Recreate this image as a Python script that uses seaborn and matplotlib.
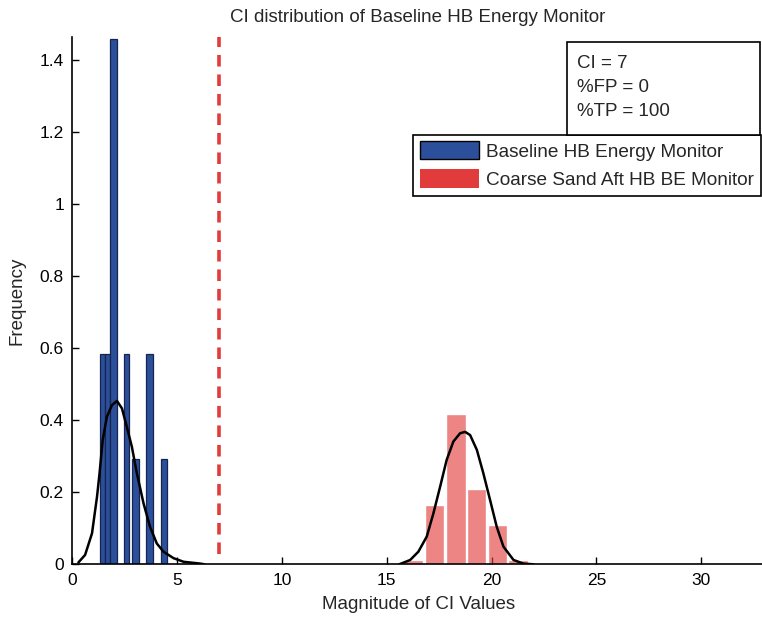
import numpy as np
import pandas as pd
import matplotlib
matplotlib.use("Agg")
import matplotlib.pyplot as plt
from matplotlib.patches import Patch, Rectangle
import seaborn as sns

# ---------------- data ----------------
title = "CI distribution of Baseline HB Energy Monitor"
xlabel = "Magnitude of CI Values"
ylabel = "Frequency"
series_names = ["Baseline HB Energy Monitor", "Coarse Sand Aft HB BE Monitor"]

# Baseline histogram (bar left edge, right edge, height)
base_left = [1.30, 1.54, 1.82, 2.45, 2.85, 3.53, 4.23]
base_right = [1.54, 1.80, 2.12, 2.72, 3.16, 3.85, 4.52]
base_height = [0.584, 0.584, 1.46, 0.584, 0.292, 0.584, 0.292]

# Coarse sand histogram
sand_left = [15.85, 16.85, 17.85, 18.85, 19.85, 20.80]
sand_right = [16.75, 17.75, 18.78, 19.75, 20.73, 21.75]
sand_height = [0.011, 0.164, 0.417, 0.209, 0.109, 0.011]

# Fitted curves
base_fit_x = [0.29, 0.61, 0.94, 1.18, 1.30, 1.45, 1.65, 1.89, 2.13, 2.37, 2.60,
              2.84, 3.08, 3.40, 3.71, 4.03, 4.35, 4.83, 5.31, 6.10, 6.30]
base_fit_y = [0.005, 0.026, 0.086, 0.188, 0.253, 0.345, 0.410, 0.442, 0.454, 0.433,
              0.382, 0.327, 0.253, 0.169, 0.104, 0.058, 0.035, 0.017, 0.007, 0.002, 0.0]
sand_fit_x = [15.60, 16.12, 16.51, 16.91, 17.23, 17.55, 17.86, 18.18, 18.50, 18.74,
              18.98, 19.30, 19.61, 19.93, 20.25, 20.57, 21.05, 21.52, 22.00]
sand_fit_y = [0.0, 0.012, 0.035, 0.077, 0.142, 0.216, 0.290, 0.341, 0.364, 0.368,
              0.359, 0.318, 0.253, 0.179, 0.104, 0.049, 0.012, 0.002, 0.0]

threshold = 7
stats_lines = ["CI = 7", "%FP = 0", "%TP = 100"]

x_ticks = [0, 5, 10, 15, 20, 25, 30]
y_ticks = [0, 0.2, 0.4, 0.6, 0.8, 1.0, 1.2, 1.4]
y_tick_labels = ["0", "0.2", "0.4", "0.6", "0.8", "1", "1.2", "1.4"]

# ---------------- style ----------------
sns.set_style("white")
plt.rcParams["font.family"] = ["Liberation Sans", "DejaVu Sans"]

W, H = 762, 621
fig = plt.figure(figsize=(W / 100, H / 100), dpi=100)
ax_l, ax_r, ax_t, ax_b = 72.3, 764.0, 37.0, 564.3
ax = fig.add_axes([ax_l / W, 1 - ax_b / H, (ax_r - ax_l) / W, (ax_b - ax_t) / H])

blue = "#2c4f9c"
red = "#e23b3b"


def hist_frame(lefts, rights, heights):
    edges = sorted(set(lefts) | set(rights))
    centers = [(l + r) / 2 for l, r in zip(lefts, rights)]
    return pd.DataFrame({"x": centers, "w": heights}), edges


df_b, edges_b = hist_frame(base_left, base_right, base_height)
df_s, edges_s = hist_frame(sand_left, sand_right, sand_height)

sns.histplot(data=df_s, x="x", weights="w", bins=edges_s, stat="count",
             color=red, alpha=0.62, edgecolor="white", linewidth=1.0, ax=ax)
sns.histplot(data=df_b, x="x", weights="w", bins=edges_b, stat="count",
             color=blue, alpha=1.0, edgecolor="#15264d", linewidth=0.9, ax=ax)

sns.lineplot(x=base_fit_x, y=base_fit_y, color="black", linewidth=1.8, ax=ax, sort=False)
sns.lineplot(x=sand_fit_x, y=sand_fit_y, color="black", linewidth=1.8, ax=ax, sort=False)

ax.axvline(threshold, ymin=0.02, ymax=1.0, color=red, linestyle=(0, (3.2, 2.2)),
           linewidth=2.6)

ax.set_xlim(0, 33.0)
ax.set_ylim(0, 1.465)
ax.set_xticks(x_ticks)
ax.set_xticklabels([str(t) for t in x_ticks])
ax.set_yticks(y_ticks)
ax.set_yticklabels(y_tick_labels)
ax.tick_params(axis="both", direction="in", length=5, width=1.0, labelsize=12.5,
               colors="black", bottom=True, left=True, top=False, right=False)
ax.tick_params(axis="x", pad=6)
ax.tick_params(axis="y", pad=6)
for s in ["top", "right"]:
    ax.spines[s].set_visible(False)
for s in ["left", "bottom"]:
    ax.spines[s].set_color("black")
    ax.spines[s].set_linewidth(1.2)

ax.set_xlabel(xlabel, fontsize=13.5, labelpad=6)
ax.set_ylabel(ylabel, fontsize=13.5, labelpad=10)
ax.set_title(title, fontsize=13.5, pad=11)

# legend
handles = [Patch(facecolor=blue, edgecolor="black", linewidth=1.0),
           Patch(facecolor=red, edgecolor=red, linewidth=0)]
leg = ax.legend(handles, series_names, loc="upper left",
                bbox_to_anchor=(413 / W, 1 - 134.5 / H), bbox_transform=fig.transFigure,
                fontsize=13.7, frameon=True, fancybox=False, framealpha=1,
                edgecolor="black", borderpad=0.35, handlelength=3.1, handleheight=1.1,
                handletextpad=0.4, labelspacing=0.45, borderaxespad=0)
leg.get_frame().set_linewidth(1.2)

# stats box
bx0, by0, bx1, by1 = 567.3, 41.7, 760.0, 134.5
fig.patches.append(Rectangle((bx0 / W, 1 - by1 / H), (bx1 - bx0) / W, (by1 - by0) / H,
                             transform=fig.transFigure, facecolor="white",
                             edgecolor="black", linewidth=1.2, zorder=5))
for i, line in enumerate(stats_lines):
    fig.text(577 / W, 1 - (63.5 + 24.2 * i) / H, line, fontsize=13.5,
             va="center", ha="left", zorder=6)

fig.savefig("out.png", dpi=100)
